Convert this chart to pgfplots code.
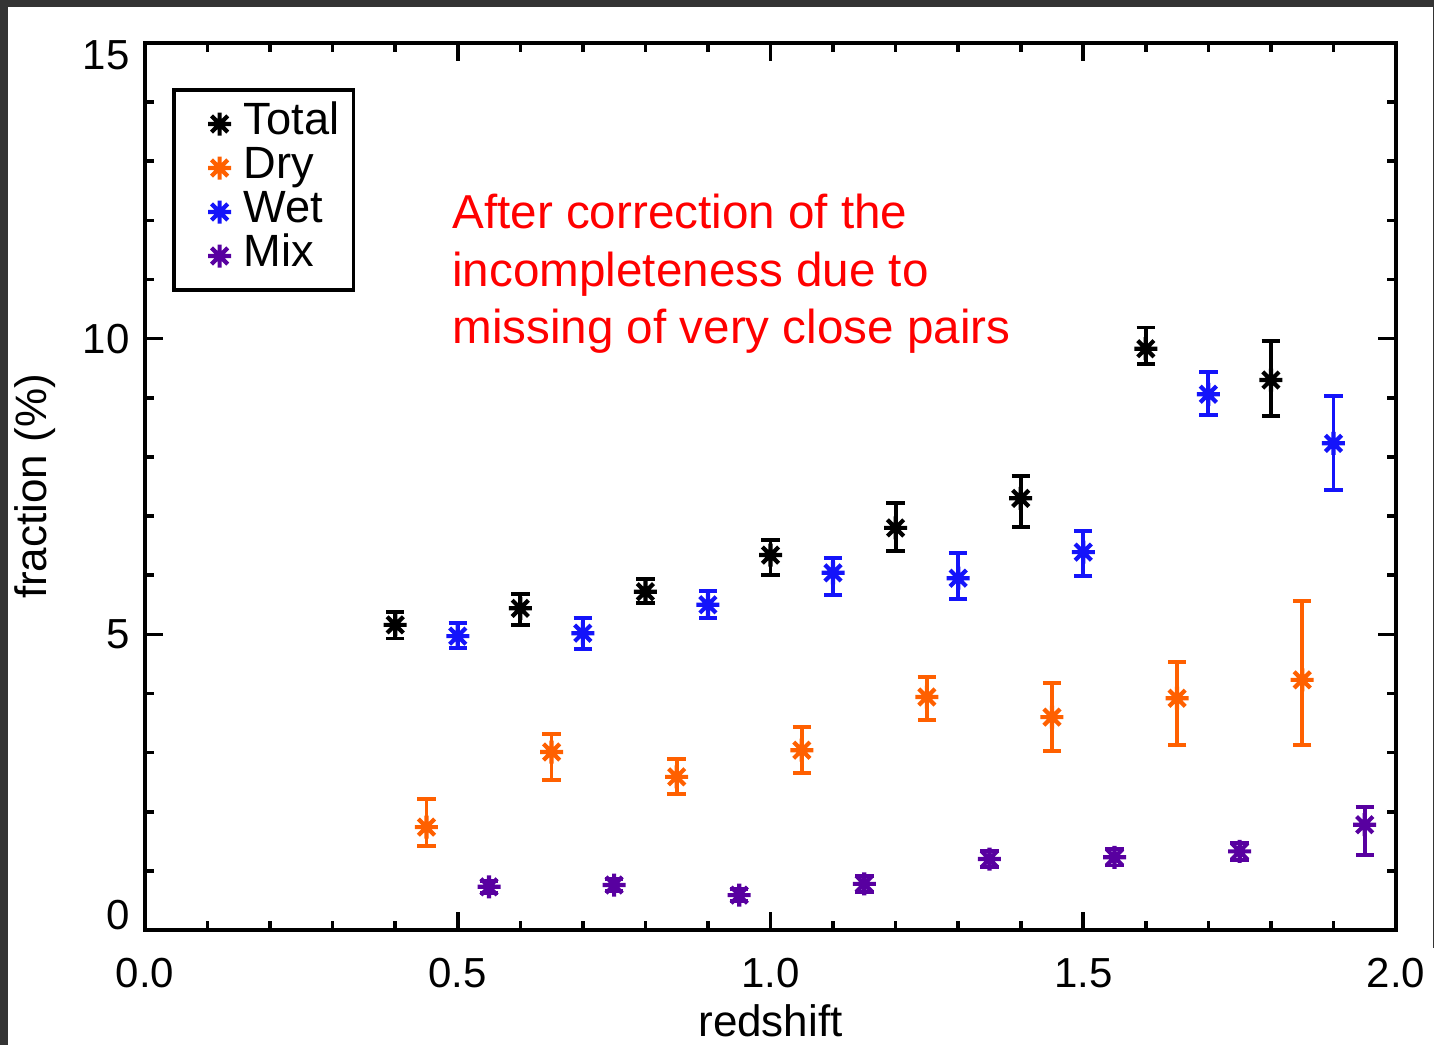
\documentclass[border=0pt]{standalone}
\usepackage{pgfplots}
\pgfplotsset{compat=1.18}
\usepackage{pgfplotstable}
\usepackage{fontspec}
\setmainfont{Liberation Sans}

\definecolor{cdry}{RGB}{255,96,0}
\definecolor{cwet}{RGB}{20,20,250}
\definecolor{cmix}{RGB}{88,0,160}
\definecolor{frame}{RGB}{52,52,52}

\pgfdeclareplotmark{ast8}{%
  \pgfpathmoveto{\pgfqpoint{0pt}{\pgfplotmarksize}}%
  \pgfpathlineto{\pgfqpoint{0pt}{-\pgfplotmarksize}}%
  \pgfpathmoveto{\pgfqpoint{\pgfplotmarksize}{0pt}}%
  \pgfpathlineto{\pgfqpoint{-\pgfplotmarksize}{0pt}}%
  \pgfpathmoveto{\pgfqpoint{0.7071\pgfplotmarksize}{0.7071\pgfplotmarksize}}%
  \pgfpathlineto{\pgfqpoint{-0.7071\pgfplotmarksize}{-0.7071\pgfplotmarksize}}%
  \pgfpathmoveto{\pgfqpoint{0.7071\pgfplotmarksize}{-0.7071\pgfplotmarksize}}%
  \pgfpathlineto{\pgfqpoint{-0.7071\pgfplotmarksize}{0.7071\pgfplotmarksize}}%
  \pgfusepathqstroke}

% x  y  plus  minus
\pgfplotstableread{
x y ep em
0.4 5.16 0.22 0.23
0.6 5.44 0.24 0.28
0.8 5.72 0.22 0.19
1.0 6.34 0.26 0.34
1.2 6.80 0.42 0.39
1.4 7.30 0.38 0.48
1.6 9.83 0.36 0.26
1.8 9.30 0.66 0.61
}\total
\pgfplotstableread{
x y ep em
0.45 1.74 0.48 0.32
0.65 3.01 0.30 0.47
0.85 2.59 0.30 0.29
1.05 3.04 0.39 0.39
1.25 3.94 0.34 0.39
1.45 3.60 0.58 0.57
1.65 3.92 0.61 0.79
1.85 4.23 1.33 1.10
}\dry
\pgfplotstableread{
x y ep em
0.5 4.97 0.22 0.20
0.7 5.02 0.26 0.27
0.9 5.50 0.23 0.22
1.1 6.04 0.25 0.37
1.3 5.95 0.43 0.35
1.5 6.39 0.36 0.40
1.7 9.06 0.38 0.35
1.9 8.23 0.80 0.79
}\wet
\pgfplotstableread{
x y ep em
0.55 0.73 0.10 0.10
0.75 0.76 0.10 0.10
0.95 0.59 0.10 0.10
1.15 0.78 0.14 0.14
1.35 1.20 0.13 0.13
1.55 1.23 0.14 0.14
1.75 1.33 0.14 0.14
1.95 1.78 0.30 0.51
}\mix

\begin{document}
\begin{tikzpicture}
\path[use as bounding box, fill=white] (-72.5pt,-57.5pt) rectangle (644.5pt,465pt);
\fill[frame] (-72.5pt,461.5pt) rectangle (644.5pt,465pt);
\fill[frame] (-72.5pt,-57.5pt) rectangle (-68.5pt,465pt);
\fill[frame] (643.8pt,-9pt) rectangle (644.5pt,465pt);
\begin{axis}[
  scale only axis,
  width=625.5pt, height=443.5pt,
  xmin=0, xmax=2, ymin=0, ymax=15,
  xtick={0,0.5,1,1.5,2},
  xticklabels={0.0,0.5,1.0,1.5,2.0},
  ytick={0,5,10,15},
  yticklabels={\raisebox{7.5pt}[\height][\depth]{0},5,10,\raisebox{-6pt}[\height][\depth]{15}},
  minor x tick num=4, minor y tick num=4,
  tick align=inside,
  major tick length=9pt, minor tick length=4.5pt,
  every tick/.style={black, line width=1.8pt},
  axis line style={line width=2pt},
  tick label style={font=\fontsize{21}{25}\selectfont},
  xticklabel style={anchor=base, yshift=-28.5pt},
  yticklabel style={anchor=east, inner sep=0pt, xshift=-7.5pt},
  xlabel={redshift},
  ylabel={fraction (\%)},
  label style={font=\fontsize{22}{26}\selectfont},
  xlabel style={at={(axis description cs:0.5,-0.1206)}, anchor=base},
  ylabel style={at={(axis description cs:-0.088,0.5)}, anchor=center},
  legend style={at={(axis description cs:0.0216,0.949)}, anchor=north west,
    draw=black, line width=1.8pt, inner xsep=7pt, inner ysep=6pt,
    font=\fontsize{22.6}{22}\selectfont,
    nodes={inner sep=0pt, text height=16pt, text depth=6pt},
    column sep=5.5pt},
  legend cell align=left,
  legend image code/.code={\path (-15pt,0pt) (5.75pt,0pt); \draw[#1] plot coordinates {(0pt,0pt)};},
  error bars/y dir=both, error bars/y explicit,
  error bars/error bar style={line width=1.9pt},
  error bars/error mark options={line width=1.9pt, mark size=4.6pt, rotate=90},
]
\addplot[only marks, black, mark=ast8, mark size=5.75pt, mark options={line width=2.1pt}]
  table[x=x, y=y, y error plus=ep, y error minus=em] {\total};
\addlegendentry{Total}
\addplot[only marks, cdry, mark=ast8, mark size=5.75pt, mark options={line width=2.1pt}]
  table[x=x, y=y, y error plus=ep, y error minus=em] {\dry};
\addlegendentry{Dry}
\addplot[only marks, cwet, mark=ast8, mark size=5.75pt, mark options={line width=2.1pt}]
  table[x=x, y=y, y error plus=ep, y error minus=em] {\wet};
\addlegendentry{Wet}
\addplot[only marks, cmix, mark=ast8, mark size=5.75pt, mark options={line width=2.1pt}]
  table[x=x, y=y, y error plus=ep, y error minus=em] {\mix};
\addlegendentry{Mix}
\node[anchor=base west, red, inner sep=0pt, font=\fontsize{23.8}{28}\selectfont] at (axis cs:0.4908,11.87) {After correction of the};
\node[anchor=base west, red, inner sep=0pt, font=\fontsize{23.8}{28}\selectfont] at (axis cs:0.4908,10.89) {incompleteness due to};
\node[anchor=base west, red, inner sep=0pt, font=\fontsize{23.8}{28}\selectfont] at (axis cs:0.4908,9.91) {missing of very close pairs};
\end{axis}
\end{tikzpicture}
\end{document}
